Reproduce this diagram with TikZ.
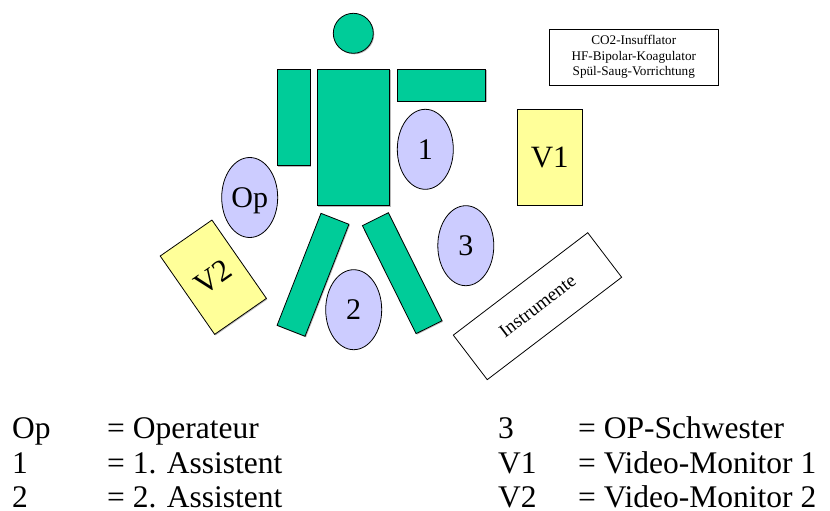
\documentclass[tikz,border=0pt]{standalone}
\usepackage{fontspec}
\setmainfont{Liberation Serif}
\usetikzlibrary{shapes.geometric,shadows}
\definecolor{bodygreen}{RGB}{0,204,153}
\definecolor{personblue}{RGB}{204,204,255}
\definecolor{monitoryellow}{RGB}{255,255,153}
\tikzset{
  outline/.style={draw=black, line width=0.8pt, inner sep=0pt},
  softshadow/.style={drop shadow={shadow xshift=1pt, shadow yshift=-1pt, fill=black!45, opacity=0.6}},
  limb/.style={outline, fill=bodygreen, rectangle, softshadow},
  person/.style={outline, fill=personblue, ellipse, minimum width=56pt, minimum height=80pt,
    font=\fontsize{30}{36}\selectfont, text depth=0pt},
  monitor/.style={outline, fill=monitoryellow, rectangle, softshadow, font=\fontsize{31}{36}\selectfont},
  legend/.style={anchor=base west, inner sep=0pt, font=\fontsize{31.5}{36}\selectfont}
}
\begin{document}
\begin{tikzpicture}[x=1pt, y=1pt]
\useasboundingbox (0,0) rectangle (830,-511);
\fill[white] (0,0) rectangle (830,-511);

% figure at the table
\node[limb, circle, minimum size=40pt] (head) at (353.3,-33.3) {};
\node[limb, minimum width=32.7pt, minimum height=96.4pt] (armL) at (293.7,-117.5) {};
\node[limb, minimum width=72.4pt, minimum height=136.4pt] (torso) at (353.5,-137.5) {};
\node[limb, minimum width=88.7pt, minimum height=32pt] (armR) at (441.3,-85.3) {};
\node[limb, minimum width=30pt, minimum height=120.3pt, rotate=-21.4] (legL) at (313,-274.8) {};
\node[limb, minimum width=29pt, minimum height=120.6pt, rotate=26.4] (legR) at (402.2,-273.2) {};

% staff positions
\node[person] (op) at (249.7,-197.5) {Op};
\node[person] (as1) at (425.3,-149.3) {1};
\node[person] (as2) at (353.7,-309.7) {2};
\node[person] (nurse) at (465.8,-245.7) {3};

% monitors
\node[monitor, minimum width=64.7pt, minimum height=96.3pt] (v1) at (549.7,-157.2) {V1};
\node[monitor, minimum width=63pt, minimum height=95.4pt, rotate=34.8] (v2) at (213.3,-277.2) {V2};

% instrument table
\node[outline, fill=white, rectangle, minimum width=169pt, minimum height=56pt, rotate=37.3,
  font=\fontsize{19}{22}\selectfont] (instr) at (537.5,-306.2) {Instrumente};

% equipment tower
\node[outline, fill=white, rectangle, minimum width=169pt, minimum height=56pt, align=center,
  font=\fontsize{13.2}{15.7}\selectfont] (tower) at (633.8,-57) {CO2-Insufflator\\HF-Bipolar-Koagulator\\Spül-Saug-Vorrichtung};

% legend
\node[legend] (k1) at (12,-438) {Op};
\node[legend] (d1) at (107,-438) {= Operateur};
\node[legend] (k2) at (12,-473) {1};
\node[legend] (d2) at (107,-473) {= 1. Assistent};
\node[legend] (k3) at (12,-507) {2};
\node[legend] (d3) at (107,-507) {= 2. Assistent};
\node[legend] (k4) at (498,-438) {3};
\node[legend] (d4) at (578,-438) {= OP-Schwester};
\node[legend] (k5) at (498,-473) {V1};
\node[legend] (d5) at (578,-473) {= Video-Monitor 1};
\node[legend] (k6) at (498,-507) {V2};
\node[legend] (d6) at (578,-507) {= Video-Monitor 2};
\end{tikzpicture}
\end{document}
